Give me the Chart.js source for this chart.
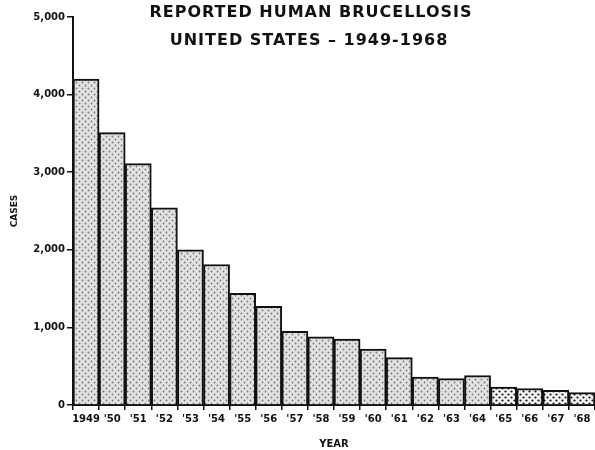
<!DOCTYPE html>
<html>
<head>
<meta charset="utf-8">
<script src="https://cdn.jsdelivr.net/npm/chart.js@4.4.1/dist/chart.umd.min.js"></script>
<style>
    html, body { margin: 0; padding: 0; background: #fff; }
    #wrap { width: 595px; height: 450px; }
</style>
</head>
<body>
<div id="wrap"><canvas id="chartBrucellosis"></canvas></div>
<script>
var years = ['1949', "'50", "'51", "'52", "'53", "'54", "'55", "'56", "'57", "'58",
             "'59", "'60", "'61", "'62", "'63", "'64", "'65", "'66", "'67", "'68"];
var cases = [4200, 3510, 3110, 2540, 2000, 1810, 1440, 1270, 950, 880,
             850, 720, 610, 360, 340, 380, 230, 210, 190, 160];
var yTicks = [0, 1000, 2000, 3000, 4000, 5000];
var titleLines = ['REPORTED HUMAN BRUCELLOSIS', 'UNITED STATES \u2013 1949-1968'];

// stipple fill, like the screened printing of the original
function makeDots(bg, dot, step, r)
{
    var c = document.createElement('canvas');
    c.width = step * 2;
    c.height = step * 2;
    var g = c.getContext('2d');
    g.fillStyle = bg;
    g.fillRect(0, 0, c.width, c.height);
    g.fillStyle = dot;
    [[0, 0], [step, step]].forEach(function (p) {
        g.beginPath();
        g.arc(p[0] + step / 2, p[1] + step / 2, r, 0, Math.PI * 2);
        g.fill();
    });
    return g.createPattern(c, 'repeat');
}

var fine = makeDots('#e2e2e2', '#7a7a7a', 3, 0.9);
var coarse = makeDots('#f4f4f4', '#111111', 3, 1.1);
var fills = cases.map(function (v, i) {
    return i < 16 ? fine : coarse;
});

var titlePlugin = {
    id: 'topTitle',
    afterDraw: function (chart) {
        var ctx = chart.ctx;
        ctx.save();
        ctx.fillStyle = '#111';
        ctx.font = 'bold 16px "DejaVu Sans"';
        ctx.textAlign = 'center';
        ctx.textBaseline = 'middle';
        ctx.letterSpacing = '1px';
        ctx.fillText(titleLines[0], 311, 13);
        ctx.fillText(titleLines[1], 309, 41);
        ctx.restore();
    }
};

new Chart(document.getElementById('chartBrucellosis'), {
    type: 'bar',
    data: {
        labels: years,
        datasets: [{
            data: cases,
            backgroundColor: fills,
            borderColor: '#111',
            borderWidth: 2,
            barPercentage: 1,
            categoryPercentage: 1
        }]
    },
    options: {
        responsive: true,
        maintainAspectRatio: false,
        animation: false,
        layout: { padding: { top: 17, right: 0, bottom: 0, left: 0 } },
        plugins: {
            legend: { display: false },
            tooltip: { enabled: false }
        },
        scales: {
            x: {
                afterFit: function (s) { s.height = 45; },
                grid: { display: true, drawOnChartArea: false, color: '#111', lineWidth: 1.5, tickLength: 5 },
                border: { color: '#111', width: 2 },
                ticks: { color: '#111', padding: 3, maxRotation: 0, autoSkip: false, font: { family: 'DejaVu Sans', size: 10, weight: 'bold' } },
                title: { display: true, text: 'YEAR', color: '#111', padding: { top: 0, bottom: 0 }, font: { family: 'DejaVu Sans', size: 10, weight: 'bold' } }
            },
            y: {
                min: 0,
                max: 5000,
                afterFit: function (s) { s.width = 73; },
                afterBuildTicks: function (s) {
                    s.ticks = yTicks.map(function (v) { return { value: v }; });
                },
                grid: { display: true, drawOnChartArea: false, color: '#111', lineWidth: 1.5, tickLength: 6 },
                border: { color: '#111', width: 2 },
                ticks: {
                    color: '#111',
                    padding: 2,
                    font: { family: 'DejaVu Sans', size: 10, weight: 'bold' },
                    callback: function (v) { return v.toLocaleString('en-US'); }
                },
                title: { display: true, text: 'CASES', color: '#111', padding: { top: 9, bottom: 0 }, font: { family: 'DejaVu Sans', size: 9, weight: 'bold' } }
            }
        }
    },
    plugins: [titlePlugin]
});
</script>
</body>
</html>
